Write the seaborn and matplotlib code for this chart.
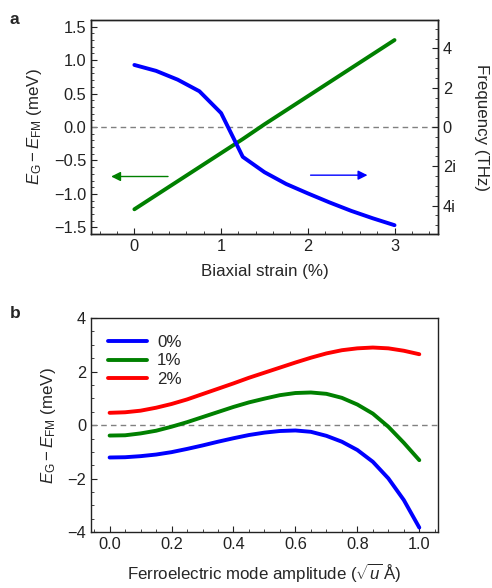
import numpy as np
import pandas as pd
import matplotlib
matplotlib.use("Agg")
import matplotlib.pyplot as plt
import seaborn as sns
from matplotlib.ticker import MultipleLocator, FuncFormatter

# Panel a: energy difference (left axis) and phonon frequency (right axis)
strain = [0, 0.25, 0.5, 0.75, 1.0, 1.25, 1.5, 1.75, 2.0, 2.25, 2.5, 2.75, 3.0]
energy_a = [-1.23, -1.02, -0.81, -0.60, -0.39, -0.18, 0.04, 0.25, 0.46, 0.67, 0.88, 1.09, 1.30]
frequency = [3.16, 2.86, 2.41, 1.82, 0.71, -1.52, -2.30, -2.90, -3.38, -3.84, -4.27, -4.65, -5.00]

# Panel b: energy vs ferroelectric mode amplitude for three strains
amplitude = [0.0, 0.05, 0.1, 0.15, 0.2, 0.25, 0.3, 0.35, 0.4, 0.45, 0.5,
             0.55, 0.6, 0.65, 0.7, 0.75, 0.8, 0.85, 0.9, 0.95, 1.0]
e_0pct = [-1.21, -1.20, -1.16, -1.10, -1.01, -0.89, -0.76, -0.62, -0.49, -0.37, -0.28,
          -0.22, -0.20, -0.25, -0.40, -0.62, -0.93, -1.37, -1.99, -2.80, -3.83]
e_1pct = [-0.39, -0.38, -0.31, -0.21, -0.06, 0.11, 0.30, 0.49, 0.68, 0.85, 0.99,
          1.12, 1.20, 1.22, 1.17, 1.02, 0.77, 0.43, -0.06, -0.66, -1.31]
e_2pct = [0.46, 0.48, 0.54, 0.65, 0.79, 0.96, 1.16, 1.36, 1.56, 1.77, 1.96,
          2.15, 2.34, 2.52, 2.68, 2.80, 2.87, 2.90, 2.87, 2.78, 2.65]
strain_labels = ["0%", "1%", "2%"]
line_colors = ["#0000ff", "#008000", "#ff0000"]

sns.set_theme(style="ticks")
plt.rcParams["font.family"] = ["Liberation Sans", "DejaVu Sans"]
plt.rcParams["mathtext.fontset"] = "custom"
plt.rcParams["mathtext.rm"] = "Liberation Sans"
plt.rcParams["mathtext.it"] = "Liberation Sans:italic"
plt.rcParams["axes.linewidth"] = 1.0
plt.rcParams["axes.edgecolor"] = "#222222"
plt.rcParams["xtick.direction"] = "in"
plt.rcParams["ytick.direction"] = "in"

fig = plt.figure(figsize=(4.92, 5.88), dpi=100)
ax_a = fig.add_axes([0.185, 0.602, 0.705, 0.364])
ax_b = fig.add_axes([0.185, 0.095, 0.705, 0.364])

ylabel = r"$E_{\rm G}-E_{\rm FM}$ (meV)"
label_size = 12.2
tick_size = 11.8

# ---- panel a ----
df_a = pd.DataFrame({"strain": strain, "energy": energy_a, "freq": frequency})
ax_a.axhline(0, color="#808080", lw=1.0, ls=(0, (4, 3)), zorder=1)
sns.lineplot(data=df_a, x="strain", y="energy", color="#008000", lw=2.8, ax=ax_a)
ax_a.set_xlim(-0.5, 3.5)
ax_a.set_ylim(-1.6, 1.6)
ax_a.xaxis.set_major_locator(MultipleLocator(1))
ax_a.xaxis.set_minor_locator(MultipleLocator(0.2))
ax_a.yaxis.set_major_locator(MultipleLocator(0.5))
ax_a.yaxis.set_minor_locator(MultipleLocator(0.1))
ax_a.set_xlabel("Biaxial strain (%)", fontsize=label_size, labelpad=7)
ax_a.set_ylabel(ylabel, fontsize=label_size, labelpad=7)

ax_f = ax_a.twinx()
sns.lineplot(data=df_a, x="strain", y="freq", color="#0000ff", lw=2.8, ax=ax_f)
ax_f.set_ylim(-5.45, 5.45)
ax_f.yaxis.set_major_locator(MultipleLocator(2))
ax_f.yaxis.set_minor_locator(MultipleLocator(0.5))
ax_f.yaxis.set_major_formatter(
    FuncFormatter(lambda v, p: "0" if abs(v) < 1e-9 else (f"{int(round(v))}" if v > 0 else f"{int(round(-v))}i")))
ax_f.set_ylabel("Frequency (THz)", fontsize=label_size, rotation=270, labelpad=24)

ax_a.annotate("", xy=(-0.30, -0.74), xytext=(0.42, -0.74),
              arrowprops=dict(arrowstyle="-|>", color="#008000", lw=1.0, mutation_scale=14))
ax_a.annotate("", xy=(2.72, -0.72), xytext=(2.0, -0.72),
              arrowprops=dict(arrowstyle="-|>", color="#0000ff", lw=1.0, mutation_scale=14))

# ---- panel b ----
df_b = pd.DataFrame({
    "amplitude": amplitude * 3,
    "energy": e_0pct + e_1pct + e_2pct,
    "strain": [s for s in strain_labels for _ in amplitude],
})
ax_b.axhline(0, color="#808080", lw=1.0, ls=(0, (4, 3)), zorder=1)
sns.lineplot(data=df_b, x="amplitude", y="energy", hue="strain",
             palette=line_colors, lw=2.8, ax=ax_b)
ax_b.set_xlim(-0.06, 1.06)
ax_b.set_ylim(-4, 4)
ax_b.xaxis.set_major_locator(MultipleLocator(0.2))
ax_b.xaxis.set_minor_locator(MultipleLocator(0.05))
ax_b.yaxis.set_major_locator(MultipleLocator(2))
ax_b.yaxis.set_minor_locator(MultipleLocator(0.5))
ax_b.set_xlabel(r"Ferroelectric mode amplitude ($\sqrt{u}\,$Å)", fontsize=label_size, labelpad=7)
ax_b.set_ylabel(ylabel, fontsize=label_size, labelpad=7)
ax_b.legend(loc="upper left", frameon=False, fontsize=label_size, handlelength=2.3,
            handletextpad=0.6, labelspacing=0.2, borderaxespad=0.6, borderpad=0.4)

for ax in (ax_a, ax_b, ax_f):
    ax.tick_params(which="major", length=4, width=0.8, labelsize=tick_size, colors="#222222")
    ax.tick_params(which="minor", length=2, width=0.6)
    for s in ax.spines.values():
        s.set_visible(True)
ax_a.tick_params(axis="y", which="both", right=False)
ax_f.tick_params(axis="y", which="both", left=False)

fig.text(0.02, 0.98, "a", fontsize=12.5, fontweight="bold", va="top")
fig.text(0.02, 0.48, "b", fontsize=12.5, fontweight="bold", va="top")

fig.savefig("out.png", dpi=100)
